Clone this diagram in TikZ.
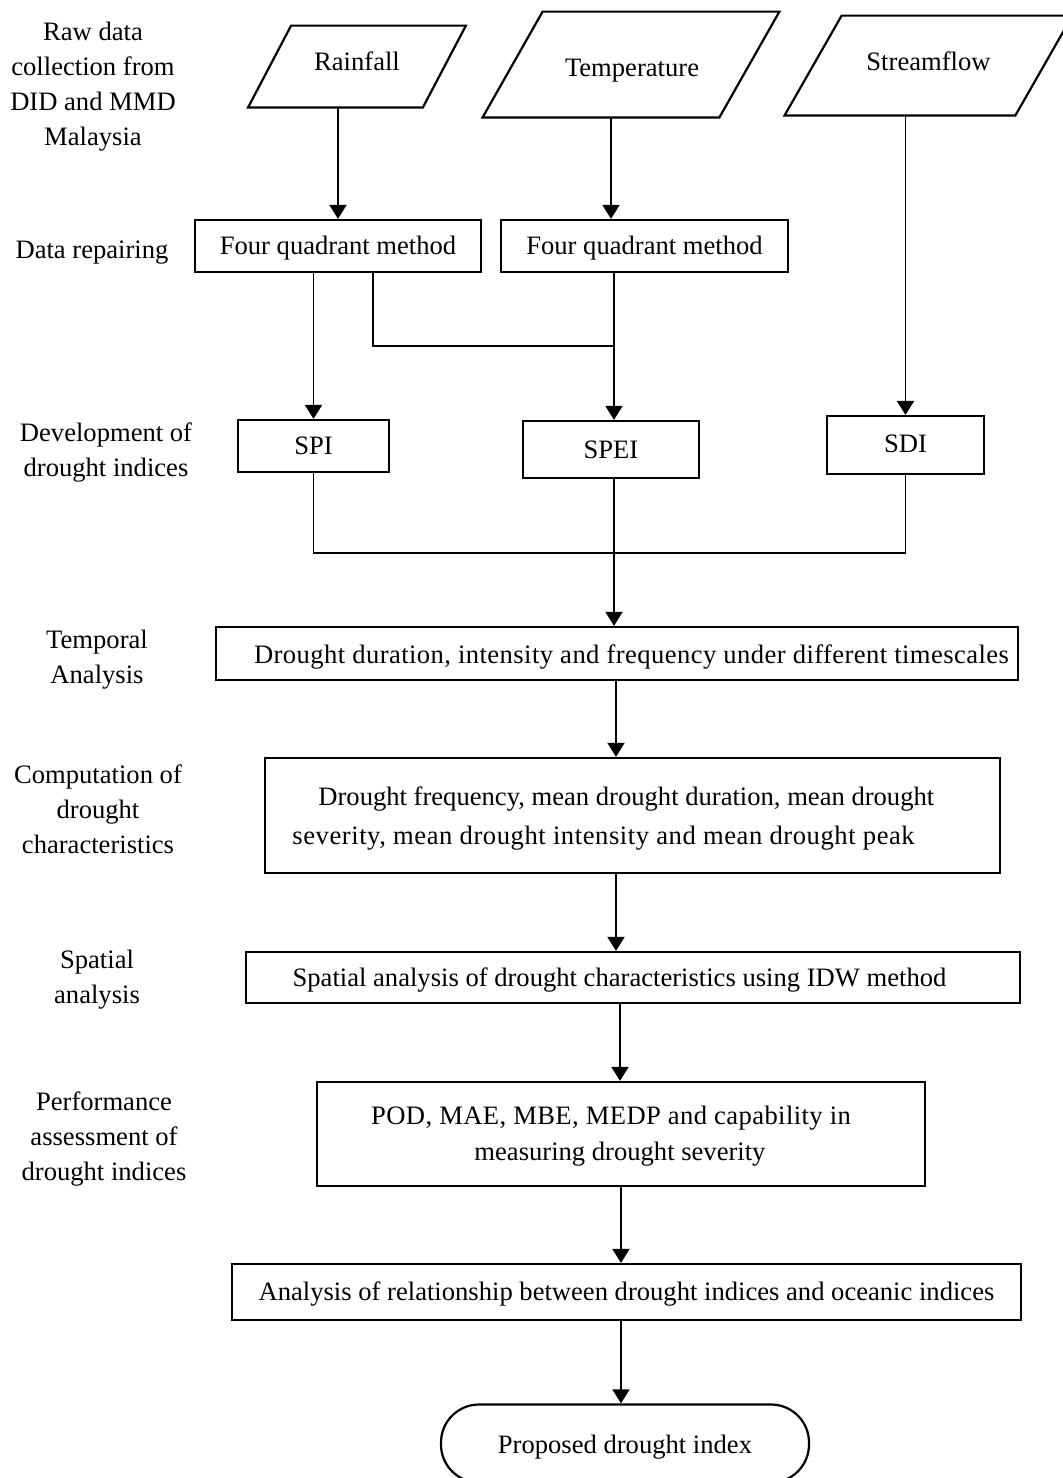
\documentclass[tikz,border=0pt]{standalone}
\usepackage{fontspec}
\setmainfont{Liberation Serif}
\usetikzlibrary{arrows.meta,calc}
% lower a line of text inside its node without changing the node's size
\newcommand\lowertext[2]{\raisebox{-#1}[\height][\depth]{#2}}

\begin{document}
\begin{tikzpicture}[x=0.5pt,y=-0.5pt,
  every node/.style={font=\fontsize{13.3pt}{17.5pt}\selectfont, inner sep=0pt},
  sz/.style 2 args={minimum width=#1*0.5pt, minimum height=#2*0.5pt},
  box/.style={draw, line width=1.1pt, rectangle},
  plain/.style={rectangle},
  outline/.style={draw, line width=1.1pt},
  conn/.style={line width=0.9pt},
  arr/.style={conn, -{Triangle[length=7pt,width=8.5pt]}},
  lab/.style={align=center},
]
\useasboundingbox (0,0) rectangle (1062,1478);

% ---- stage labels on the left ----
\node[lab] (lraw) at (93,87) {Raw data\\collection from\\DID and MMD\\Malaysia};
\node[lab] (lrep) at (92,253) {Data repairing};
\node[lab] (ldev) at (106,452.5) {Development of\\drought indices};
\node[lab] (ltmp) at (97,660) {Temporal\\Analysis};
\node[lab] (lcmp) at (98,809.5) {Computation of\\drought\\characteristics};
\node[lab] (lspa) at (97,980) {Spatial\\analysis};
\node[lab] (lprf) at (104,1139) {Performance\\assessment of\\drought indices};

% ---- input data (parallelograms) ----
\node[plain, sz={174}{81}] (rain) at (357,66.5) {};
\draw[outline] ($(rain.south west)+(-21.5,0)$) -- ($(rain.south east)+(-21.5,0)$)
  -- ($(rain.north east)+(21.5,0)$) -- ($(rain.north west)+(21.5,0)$) -- cycle;
\node (raintext) at (357,61.5) {Rainfall};
\node[plain, sz={236}{105}] (temp) at (631,64.5) {};
\draw[outline] ($(temp.south west)+(-30,0)$) -- ($(temp.south east)+(-30,0)$)
  -- ($(temp.north east)+(30,0)$) -- ($(temp.north west)+(30,0)$) -- cycle;
\node (temptext) at (632,70.5) {Temperature};
\node[plain, sz={230}{99}] (stream) at (928.5,65.5) {};
\draw[outline] ($(stream.south west)+(-28.5,0)$) -- ($(stream.south east)+(-28.5,0)$)
  -- ($(stream.north east)+(28.5,0)$) -- ($(stream.north west)+(28.5,0)$) -- cycle;
\node (streamtext) at (928.5,61.5) {Streamflow};

% ---- processing boxes ----
\node[box, sz={286}{52}] (q1) at (338,246) {\lowertext{1pt}{Four quadrant method}};
\node[box, sz={287}{52}] (q2) at (644.5,246) {\lowertext{1pt}{Four quadrant method}};
\node[box, sz={151}{52}] (spi) at (313.5,446) {SPI};
\node[box, sz={176}{57}] (spei) at (611,449.5) {SPEI};
\node[box, sz={157}{58}] (sdi) at (905.5,445) {\lowertext{-0.75pt}{SDI}};
\node[box, sz={802}{53}] (temporal) at (617,653.5)
  {\lowertext{1.5pt}{\hspace*{14.5pt}\addfontfeature{LetterSpace=1.6}Drought duration, intensity and frequency under different timescales}};
\node[box, sz={735}{115}] (comp) at (632.5,815.5) {};
\node[align=left, anchor=west, font=\fontsize{13.3pt}{19.5pt}\selectfont] (comptext) at (292,818.5)
  {\hspace*{13pt}Drought frequency, mean drought duration, mean drought\\
   {\addfontfeature{LetterSpace=2.1}severity, mean drought intensity and mean drought peak}};
\node[box, sz={774}{51}] (spatial) at (633,977.5)
  {\lowertext{1pt}{Spatial analysis of drought characteristics using IDW method\hspace*{13.5pt}}};
\node[box, sz={608}{104}] (perf) at (621,1134) {};
\node[align=center, font=\fontsize{13.3pt}{18pt}\selectfont] (perftext) at (620,1136.5)
  {{\addfontfeature{LetterSpace=1.5}POD, MAE, MBE, MEDP and capability in}\hspace*{9pt}\\measuring drought severity};
\node[box, sz={789}{56}] (analysis) at (626.5,1292)
  {\lowertext{1pt}{Analysis of relationship between drought indices and oceanic indices}};
\node[box, sz={368}{78}, rounded corners=19pt] (term) at (625,1443.5)
  {\lowertext{2pt}{Proposed drought index}};

% ---- connectors ----
\coordinate (jn1) at (614,346);
\coordinate (jn2) at (614,553);
\draw[arr] (rain.south -| q1.north) -- (q1.north);
\draw[arr] (temp.south -| 611,0) -- (q2.north -| 611,0);
\draw[arr] (stream.south -| sdi.north) -- (sdi.north);
\draw[arr] (q1.south -| spi.north) -- (spi.north);
\draw[conn] (q1.south -| 373,0) |- (jn1);
\draw[arr] (q2.south -| jn1) -- (spei.north -| jn1);
\draw[conn] (spi.south) |- (jn2) -| (sdi.south);
\draw[arr] (spei.south -| jn2) -- (temporal.north -| jn2);
\draw[arr] (temporal.south -| 616,0) -- (comp.north -| 616,0);
\draw[arr] (comp.south -| 616,0) -- (spatial.north -| 616,0);
\draw[arr] (spatial.south -| 620,0) -- (perf.north -| 620,0);
\draw[arr] (perf.south -| 621,0) -- (analysis.north -| 621,0);
\draw[arr] (analysis.south -| 621,0) -- (term.north -| 621,0);
\end{tikzpicture}
\end{document}
